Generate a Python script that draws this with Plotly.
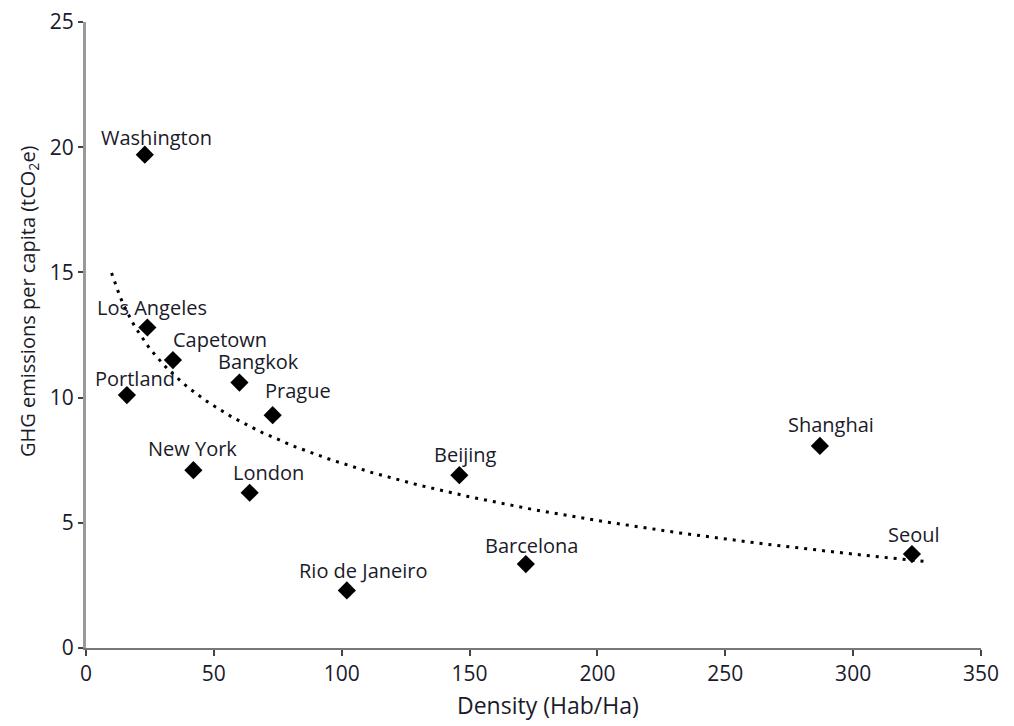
import numpy as np
import plotly.graph_objects as go

cities = ["Washington", "Los Angeles", "Capetown", "Portland", "Bangkok", "Prague",
          "New York", "London", "Rio de Janeiro", "Beijing", "Barcelona", "Shanghai", "Seoul"]
density = [23, 24, 34, 16, 60, 73, 42, 64, 102, 146, 172, 287, 323]
ghg = [19.7, 12.8, 11.5, 10.1, 10.6, 9.3, 7.1, 6.2, 2.3, 6.9, 3.35, 8.07, 3.75]

x_ticks = [0, 50, 100, 150, 200, 250, 300, 350]
y_ticks = [0, 5, 10, 15, 20, 25]

# label offsets (pixels)
label_dx = [12, 5, 47, 8, 19, 25, -1, 19, 17, 6, 6, 11, 2]
label_dy = [17, 20, 21, 17, 21, 25, 22, 20, 20, 21, 19, 21, 20]

# logarithmic trend line fitted to the data
b, a = np.polyfit(np.log(density), ghg, 1)
trend_x = np.linspace(10, 328, 200)
trend_y = a + b * np.log(trend_x)

FONT = "Open Sans"
TXT = "#1a1a2a"

fig = go.Figure()
fig.add_trace(go.Scatter(x=trend_x, y=trend_y, mode="lines",
                         line=dict(color="black", width=3, dash="3px,6px"),
                         hoverinfo="skip", showlegend=False))
fig.add_trace(go.Scatter(x=density, y=ghg, mode="markers",
                         marker=dict(symbol="diamond", size=14, color="black"),
                         text=cities, showlegend=False))

for c, x, y, dx, dy in zip(cities, density, ghg, label_dx, label_dy):
    fig.add_annotation(x=x, y=y, text=c, showarrow=False, xshift=dx, yshift=dy,
                       font=dict(family=FONT, size=20, color=TXT))

# axis titles
fig.add_annotation(xref="paper", yref="paper", x=0.516, y=-0.091,
                   xanchor="center", yanchor="middle", showarrow=False,
                   text="Density (Hab/Ha)", font=dict(family=FONT, size=23, color=TXT))
fig.add_annotation(xref="paper", yref="paper", x=-0.065, y=0.554,
                   xanchor="center", yanchor="middle", showarrow=False, textangle=-90,
                   text="GHG emissions per capita (tCO<sub>2</sub>e)",
                   font=dict(family=FONT, size=20, color=TXT))

# page body has an 8px margin, so the figure is 8px smaller than the window
fig.update_layout(
    width=1006, height=718,
    margin=dict(l=78, r=33, t=14, b=78),
    plot_bgcolor="white", paper_bgcolor="white",
    font=dict(family=FONT, color=TXT),
)
fig.update_xaxes(range=[0, 350], tickvals=x_ticks, showgrid=False, zeroline=False,
                 automargin=False, ticklabeloverflow="allow",
                 showline=True, linecolor="#777777", linewidth=2,
                 ticks="outside", ticklen=6, tickcolor="#444444", tickwidth=1.5,
                 tickfont=dict(family=FONT, size=21, color=TXT))
fig.update_yaxes(range=[0, 25], tickvals=y_ticks, showgrid=False, zeroline=False,
                 automargin=False, ticklabeloverflow="allow",
                 showline=True, linecolor="#999999", linewidth=3,
                 ticks="outside", ticklen=5, tickcolor="#444444", tickwidth=1.5,
                 tickfont=dict(family=FONT, size=21, color=TXT))

fig.write_html("out.html")
